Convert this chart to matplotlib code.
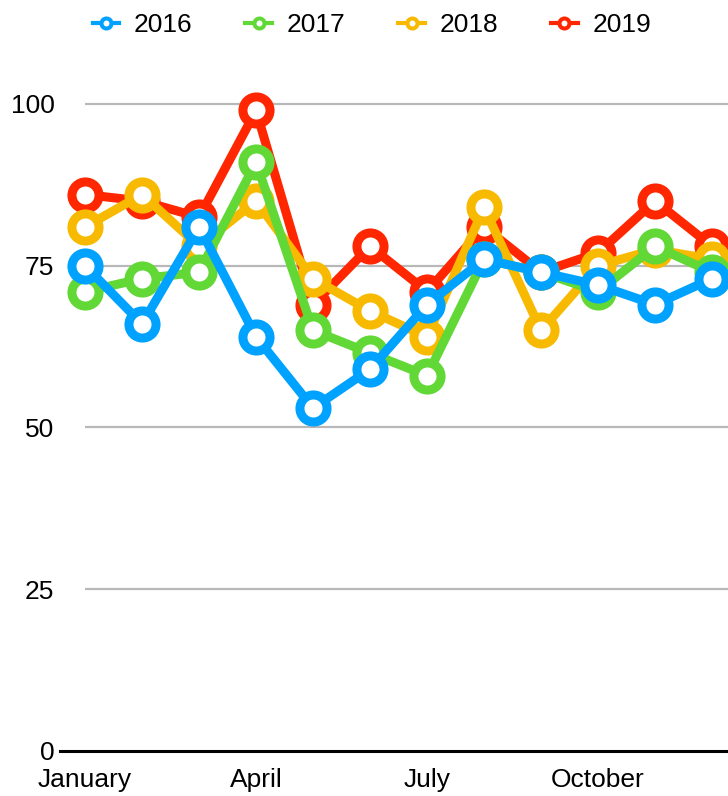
import matplotlib
matplotlib.use("Agg")
import matplotlib.pyplot as plt
from matplotlib.lines import Line2D

plt.rcParams['font.family'] = ['Liberation Sans', 'DejaVu Sans']

months = ["January", "February", "March", "April", "May", "June",
          "July", "August", "September", "October", "November", "December"]
tick_labels = ["January", "April", "July", "October"]
years = ["2016", "2017", "2018", "2019"]

v2016 = [75, 66, 81, 64, 53, 59, 69, 76, 74, 72, 69, 73]
v2017 = [71, 73, 74, 91, 65, 61.5, 58, 76, 74, 71, 78, 74]
v2018 = [81, 86, 78, 85, 73, 68, 64, 84, 65, 75, 77.5, 76]
v2019 = [86, 85, 82.5, 99, 69, 78, 71, 81, 74, 77, 85, 78]

colors = {"2016": "#00a2ff", "2017": "#61d836", "2018": "#f8ba00", "2019": "#ff2600"}
series = {"2016": v2016, "2017": v2017, "2018": v2018, "2019": v2019}

fig = plt.figure(figsize=(7.28, 7.96), dpi=100)
W, H = 728, 796
ax = fig.add_axes([60 / W, (796 - 751) / H, 668 / W, (751 - 71.6) / H])

x = list(range(len(months)))
# 2016 drawn on top, 2019 at the bottom
for z, yr in enumerate(reversed(years)):
    ax.plot(x, series[yr], color=colors[yr], lw=6.5, marker='o', ms=19.5,
            mfc='white', mec=colors[yr], mew=6.5, zorder=3 + z,
            clip_on=False, solid_joinstyle='round')

ax.set_xlim(-0.44, 11.28)
ax.set_ylim(0, 105)
ax.hlines([25, 50, 75, 100], 0, 11.28, colors='#b8b8b8', lw=1.6, zorder=1)

ax.set_xticks([0, 3, 6, 9])
ax.set_xticklabels(tick_labels)
ax.set_yticks([0, 25, 50, 75, 100])
ax.tick_params(length=0, labelsize=19)
ax.tick_params(axis='x', pad=12.5)
ax.tick_params(axis='y', pad=4)

for s in ['left', 'right', 'top']:
    ax.spines[s].set_visible(False)
ax.spines['bottom'].set_linewidth(2.2)
ax.spines['bottom'].set_color('black')

handles = [Line2D([0], [0], color=colors[yr], lw=3, marker='o', ms=7.2,
                  mfc='white', mec=colors[yr], mew=2.9) for yr in years]
fig.legend(handles, years, loc='center', bbox_to_anchor=(0.511, 1 - 25 / H),
           ncol=4, frameon=False, fontsize=19, handlelength=1.0,
           handletextpad=0.57, columnspacing=2.0)

fig.savefig("out.png", dpi=100)
